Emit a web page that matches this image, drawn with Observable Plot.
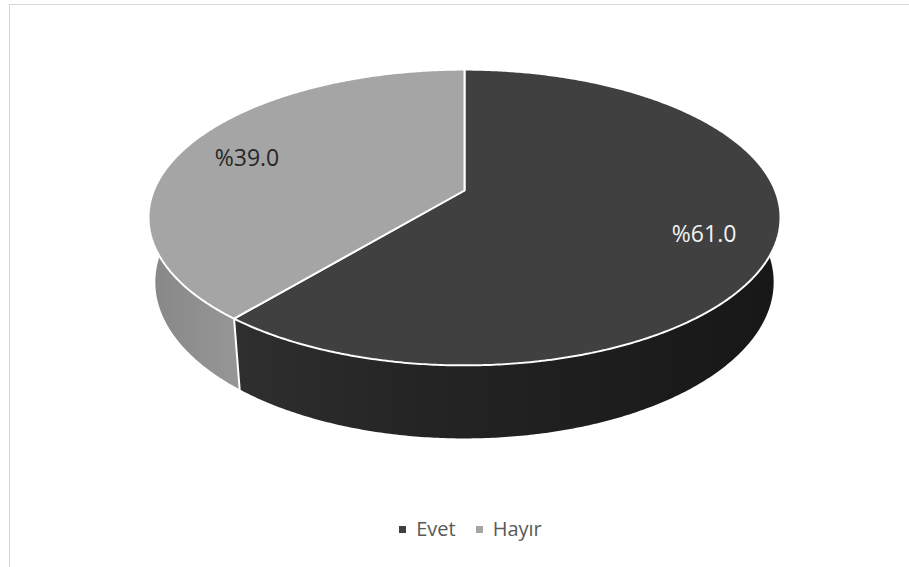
<!DOCTYPE html>
<html>
<head>
<meta charset="utf-8">
<script src="https://cdn.jsdelivr.net/npm/d3@7"></script>
<script src="https://cdn.jsdelivr.net/npm/@observablehq/plot@0.6"></script>
<style>
  html, body { margin: 0; padding: 0; background: #fff; }
  body { width: 909px; height: 567px; overflow: hidden; position: relative; font-family: "Open Sans", sans-serif; }
  #frame { position: absolute; left: 9px; top: 4px; width: 960px; height: 620px; border: 1px solid #d6d6d6; box-sizing: border-box; }
  #chart { position: absolute; left: 0; top: 0; }
  #legend { position: absolute; left: 0; top: 519px; width: 909px; box-sizing: border-box; padding-left: 32px;
            display: flex; justify-content: center; align-items: center; font-size: 20px; line-height: 20px; color: #595959; }
  .item { display: flex; align-items: center; margin: 0 10px; }
  .sw { width: 7px; height: 7px; margin-right: 10px; }
</style>
</head>
<body>
<div id="frame"></div>
<div id="chart"></div>
<div id="legend"></div>
<script>
// ---- data ----
const categories = ["Evet", "Hayır"];
const values = [61.0, 39.0];
const labels = ["%61.0", "%39.0"];

// ---- style ----
const topColors = ["#404040", "#a5a5a5"];
const legendColors = ["#404040", "#a5a5a5"];
const labelColors = ["#f2f2f2", "#262626"];
const sideGradients = [
  [["0%", "#2f2f2f"], ["35%", "#242424"], ["100%", "#171717"]],
  [["0%", "#878787"], ["100%", "#9c9c9c"]]
];

// ---- 3D view (perspective) ----
const alpha = 26.9 * Math.PI / 180;
const D = 4.89;          // camera distance (in pie radii)
const H = 0.2308;        // pie thickness (in pie radii)
const cA = Math.cos(alpha), sA = Math.sin(alpha);
function proj(theta, r, Y) {
  const X = r * Math.sin(theta), Z = r * Math.cos(theta);
  const depth = D + Z * cA - Y * sA;
  return {x: X * D / depth, y: (Z * sA + Y * cA) * D / depth};
}

const total = d3.sum(values);
let acc = 0;
const slices = values.map((v, i) => {
  const a0 = acc / total * 2 * Math.PI;
  acc += v;
  const a1 = acc / total * 2 * Math.PI;
  return {i, a0, a1, mid: (a0 + a1) / 2};
});

const STEP = Math.PI / 360;
function arc(a0, a1, r, Y) {
  const n = Math.max(2, Math.ceil((a1 - a0) / STEP));
  return d3.range(n + 1).map(k => proj(a0 + (a1 - a0) * k / n, r, Y));
}

const marks = [];
// side faces
slices.forEach(s => {
  const lo = Math.max(s.a0, Math.PI / 4), hi = Math.min(s.a1, 7 * Math.PI / 4);
  if (hi <= lo) return;
  const pts = [...arc(lo, hi, 1, 0), ...arc(lo, hi, 1, -H).reverse()];
  marks.push(Plot.line(pts, {x: "x", y: "y", fill: `url(#side${s.i})`, stroke: "none", curve: "linear"}));
});
// white edges between slices on the visible side
slices.forEach(s => {
  if (Math.cos(s.a0) < 0) {
    marks.push(Plot.line([proj(s.a0, 1, 0), proj(s.a0, 1, -H)], {x: "x", y: "y", stroke: "#ffffff", strokeWidth: 2}));
  }
});
// top faces
slices.forEach(s => {
  const c = proj(0, 0, 0);
  const pts = [c, ...arc(s.a0, s.a1, 1, 0), c];
  marks.push(Plot.line(pts, {x: "x", y: "y", fill: topColors[s.i], stroke: "#ffffff", strokeWidth: 2, strokeLinejoin: "miter", curve: "linear"}));
});
// labels
const labelData = slices.map(s => ({...proj(s.mid, 0.78, 0), text: labels[s.i], color: labelColors[s.i]}));
marks.push(Plot.text(labelData, {x: "x", y: "y", text: "text", fill: "color", fontSize: 23, fontFamily: "Open Sans", dy: 4}));

const chart = Plot.plot({
  width: 909,
  height: 510,
  margin: 0,
  style: {background: "transparent"},
  x: {domain: [-1, 1], range: [464 - 310.7, 464 + 310.7], axis: null},
  y: {domain: [-1, 1], range: [190 + 316, 190 - 316], axis: null},
  color: {type: "identity"},
  marks
});

// gradients for the side faces
const svg = d3.select(chart);
const defs = svg.insert("defs", ":first-child");
sideGradients.forEach((stops, i) => {
  const g = defs.append("linearGradient").attr("id", `side${i}`).attr("x1", "0").attr("x2", "1").attr("y1", "0").attr("y2", "0");
  stops.forEach(([o, c]) => g.append("stop").attr("offset", o).attr("stop-color", c));
});
document.getElementById("chart").appendChild(chart);

// legend
const legend = d3.select("#legend");
categories.forEach((c, i) => {
  const item = legend.append("div").attr("class", "item");
  item.append("div").attr("class", "sw").style("background", legendColors[i]);
  item.append("span").text(c);
});
</script>
</body>
</html>
